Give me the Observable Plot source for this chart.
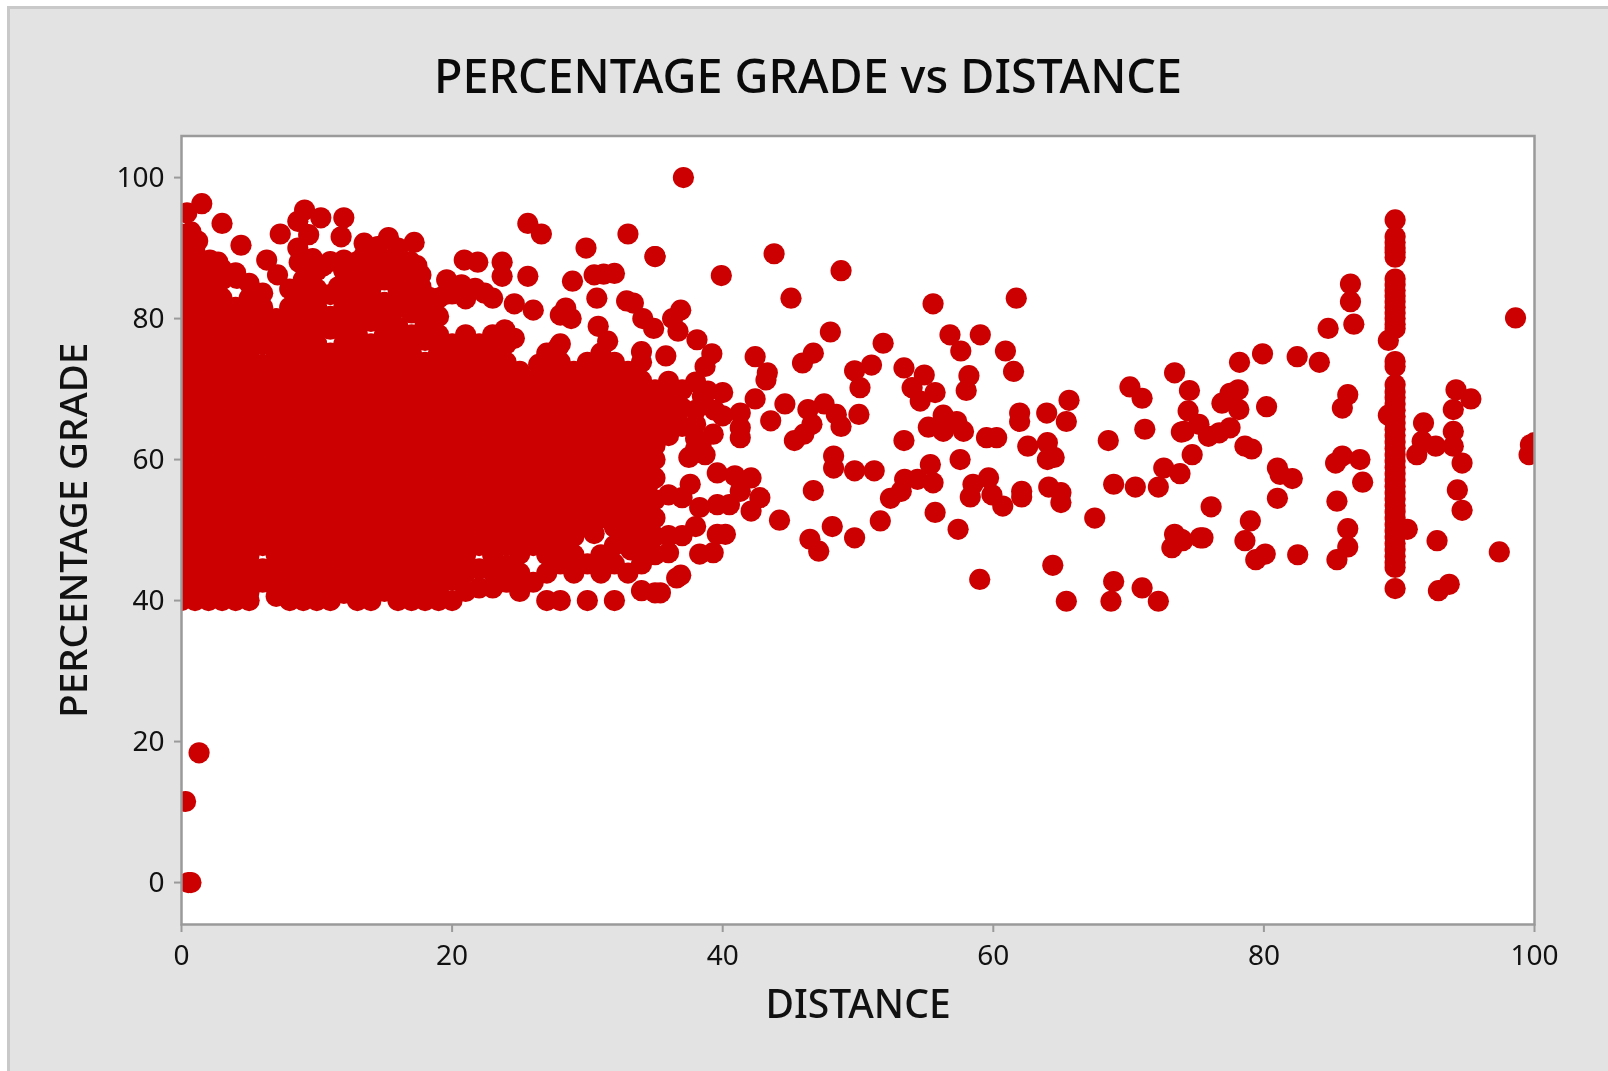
<!DOCTYPE html>
<html><head><meta charset="utf-8">
<script src="https://cdn.jsdelivr.net/npm/d3@7"></script>
<script src="https://cdn.jsdelivr.net/npm/@observablehq/plot@0.6"></script>
<style>
html,body{margin:0;padding:0;background:#fff;overflow:hidden}
#panel{position:absolute;left:7px;top:6px;width:1601px;height:1065px;background:#E3E3E3;border-left:3px solid #C9C9C9;border-top:3px solid #C9C9C9;box-sizing:border-box}
#title{position:absolute;left:0;width:1608px;top:45px;padding-left:8px;box-sizing:border-box;text-align:center;font:500 46.7px/60px "Noto Sans",sans-serif;color:#0a0a0a;white-space:nowrap;filter:blur(.5px)}
#chart{position:absolute;left:0;top:0;filter:blur(.5px)}
</style></head><body>
<div id="panel"></div>
<div id="chart"></div>
<div id="title">PERCENTAGE GRADE vs DISTANCE</div>
<script>
const title = "PERCENTAGE GRADE vs DISTANCE";
const xLabel = "DISTANCE";
const yLabel = "PERCENTAGE GRADE";
const xTicks = [0, 20, 40, 60, 80, 100];
const yTicks = [0, 20, 40, 60, 80, 100];

// Dense core of the cloud, one row per distance: [distance, [grades...]]
const coreColumns = [
[0,[40,42.6,45.2,47.8,50.4,53,55.6,58.2,60.8,63.4,66,68.6,71.2,73.8,76.4,79,81.6,84.2,86.8,89]],
[1,[40,41.3,43.9,46.5,49.1,51.7,54.3,56.9,59.5,62.1,64.7,67.3,69.9,72.5,75.1,77.7,80.3,82.9,85.5,88.1]],
[2,[40,42.6,45.2,47.8,50.4,53,55.6,58.2,60.8,63.4,66,68.6,71.2,73.8,76.4,79,81.6,84.2,86.8]],
[3,[40,41.3,43.9,46.5,49.1,51.7,54.3,56.9,59.5,62.1,64.7,67.3,69.9,72.5,75.1,77.7,80.3,82.9,85.5]],
[4,[40,42.6,45.2,47.8,50.4,53,55.6,58.2,60.8,63.4,66,68.6,71.2,73.8,76.4,79,81.6,86.5]],
[5,[40,41.3,43.9,46.5,49.1,51.7,54.3,56.9,59.5,62.1,64.7,67.3,69.9,72.5,75.1,77.7,82.9,85]],
[6,[42.6,47.8,50.4,53,55.6,58.2,60.8,63.4,66,68.6,71.2,76.4,81.6,83.6]],
[7,[40.6,43.9,46.5,49.1,51.7,54.3,56.9,59.5,62.1,64.7,67.3,69.9,72.5,75.1,77.7]],
[8,[40,42.6,45.2,47.8,50.4,53,55.6,58.2,60.8,63.4,66,68.6,71.2,73.8,76.4,81.6,84.2]],
[9,[40,41.3,43.9,46.5,49.1,51.7,54.3,56.9,59.5,62.1,64.7,67.3,69.9,72.5,75.1,77.7,80.3,82.9,85.5,88.1]],
[10,[40,42.6,45.2,47.8,50.4,53,55.6,58.2,60.8,63.4,66,68.6,71.2,73.8,76.4,79,81.6,84.2,86.8]],
[11,[40,41.3,43.9,46.5,49.1,51.7,54.3,56.9,59.5,62.1,64.7,67.3,69.9,72.5,75.1,80.3,88.1]],
[12,[41,42.6,45.2,47.8,50.4,53,55.6,58.2,60.8,63.4,66,68.6,71.2,73.8,76.4,79,81.6,84.2,86.8]],
[13,[40,43.9,46.5,49.1,51.7,54.3,56.9,59.5,62.1,64.7,67.3,69.9,72.5,75.1,77.7,80.3,82.9,85.5,88.1]],
[14,[40,42.6,45.2,47.8,50.4,53,55.6,58.2,60.8,63.4,66,68.6,71.2,73.8,76.4,81.6,84.2,86.8]],
[15,[41.3,43.9,46.5,49.1,51.7,54.3,56.9,59.5,62.1,64.7,67.3,69.9,72.5,75.1,77.7,80.3,85.5]],
[16,[40,42.6,45.2,47.8,50.4,53,55.6,58.2,60.8,63.4,66,68.6,71.2,73.8,76.4,81.6,84.2,86.8]],
[17,[40,43.9,46.5,49.1,51.7,54.3,56.9,59.5,62.1,64.7,67.3,69.9,72.5,75.1,77.7,82.9,85.5]],
[18,[40,42.6,45.2,47.8,50.4,53,55.6,58.2,60.8,63.4,66,68.6,71.2,73.8,79,81.6]],
[19,[40,41.3,43.9,46.5,49.1,51.7,54.3,56.9,59.5,62.1,64.7,67.3,69.9,72.5,75.1,77.7,80.3,82.9]],
[20,[40,45.2,47.8,50.4,53,55.6,58.2,60.8,63.4,66,68.6,71.2,73.8,76.4]],
[21,[41.3,43.9,46.5,49.1,51.7,54.3,56.9,59.5,62.1,64.7,67.3,69.9,72.5,75.1,77.7]],
[22,[47.8,50.4,53,55.6,58.2,60.8,63.4,66,68.6,71.2,73.8,76.4]],
[23,[41.8,44,46.5,49.1,51.7,54.3,56.9,59.5,62.1,64.7,67.3,69.9,72.5,75.1,77.7]],
[24,[42.6,47.8,50.4,53,55.6,58.2,60.8,63.4,66,68.6,71.2,73.8,76.4]],
[25,[41.3,43.9,49.1,51.7,54.3,56.9,59.5,62.1,64.7,67.3,69.9,72.5]],
[26,[42.6,47.8,50.4,53,55.6,58.2,60.8,63.4,66,68.6,71.2]],
[27,[40,43.9,46.5,49.1,51.7,54.3,56.9,59.5,62.1,64.7,67.3,69.9,72.5,75.1]],
[28,[40,45.2,47.8,50.4,53,55.6,58.2,60.8,63.4,66,68.6,71.2,73.8,76.4]],
[29,[43.9,46.5,49.1,51.7,54.3,56.9,59.5,62.1,64.7,67.3,69.9,72.5]],
[30,[40,45.2,50.4,53,55.6,58.2,60.8,63.4,66,68.6,71.2,73.8]],
[31,[43.9,46.5,51.7,54.3,56.9,59.5,62.1,64.7,67.3,69.9,72.5,75.1]],
[32,[40,45.2,47.8,50.4,53,55.6,58.2,60.8,63.4,66,68.6,71.2,73.8]],
[33,[43.9,49.1,51.7,54.3,56.9,59.5,62.1,64.7,67.3,69.9,72.5]],
[34,[41.4,45.2,47.8,50.4,53,55.6,58.2,60.8,63.4,66,68.6,71.2,73.8]],
[35,[41.1,46.5,49.1,51.7,54.3,57.4,60,62,64.7,67.3,69.9]],
[36,[46.8,49.2,55,63.4,66,68.6,71.1]],
[37,[49.2,54.6,64.7,67.3,69.9]],
[38,[50.5,65,67,71]]
];

// Extra points packed into the gaps of the core
const packedDistance = [5,6,6,8,11.6,11,11,14,15,15,16,17,18,7,8.7,9.7,10.5,12,13.5,14.5,15.8,16.5,17.4,17.7,18.3,20,21,22.4,0,1,2,3,4.1,5.2,6,7,13,17,20,22,25,33.5,34.5,33.5,34.5,30.5,33.2,22,24];
const packedGrade = [80.3,73.5,79,78.9,84.5,83.4,78.5,79.6,82.3,87,78.8,80.8,76.9,80,88,88.5,87.5,87,89,88.5,88.8,87.5,87.5,84.5,83,83.5,82.8,83.6,92,89.5,87.5,87,85.7,83.4,44.5,41.8,41.8,41.8,42.9,44.5,46.6,60.5,59.5,57,56.5,49.5,47.2,41.8,45];

// Loose points on the upper edge of the cloud: distances and grades, paired by position
const upperDistance = [0.4,1.5,3,0.7,1.2,0.4,4.4,7.3,9.1,8.6,10.3,12,11.8,8.6,9.4,6.3,7.1,2.1,2.7,12,13.5,15.3,17.2,16,14.5,16.9,17.7,20.9,21.9,23.7,23.7,25.6,25.6,26.6,29.9,33,35,28.9,30.5,31.2,32,30.7,32.9,33.4,34.1,34.9,36.9,36.3,36.7,35.8,24.6,26,23,19.6,20.7,21.7,19.5,28.4,28,28.8,23.9,24.6,30.8,31.5,27.8,26.4,34];
const upperGrade = [95,96.3,93.5,92.3,91,90,90.4,92,95.4,93.8,94.3,94.3,91.6,90,91.9,88.3,86.2,88.3,88,88.3,90.7,91.5,90.8,90,90.2,88.1,86.2,88.3,88,88,86,86,93.5,92,90,92,88.8,85.3,86.2,86.3,86.4,82.9,82.5,82.2,80,78.6,81.2,80,78.2,74.7,82.1,81.2,82.9,85.5,84.8,84.3,83.4,81.5,80.5,80,78.4,77.2,78.9,76.8,75.8,73.5,75.3];

// Points on the right of the cloud and through the thinning region
const midDistance = [37.1,35,39.9,43.8,48.75,45.05,55.55,61.7,47.96,51.86,56.8,59.04,57.6,60.9,61.5,58.2,58,46.7,45.9,42.4,43.3,43.2,42.4,51,49.75,50.15,50.07,53.4,54.9,54,55.7,54.6,44.6,46.3,47.5,48.4,48.75,43.55,41.3,40,41.3,41.3,46.6,46,45.3,53.4,56.3,57.3,55.2,56.3,57.8,59.5,60.25,61.95,61.95,63.95,65.6,65.4,62.55,64,64.5,64,57.55,48.2,48.2,49.75,51.2,55.35,55.55,54.4,53.45,53.2,52.4,46.7,58.5,58.3,59.65,59.9,60.7,62.1,62.1,64.1,65,65,67.5,68.5,71.2,70.1,71,73.4,74.5,74.4,73.9,74.7,72.6,73.8,68.9,70.5,72.2,73.4,73.2,73.9,75.3,64.4,59,68.9,71,65.4,68.7,72.2,55.7,57.4,51.65,48.1,49.75,46.45,47.1,44.2,38.1,39.2,38.7,40,38.5,39.3,38.4,37.5,38.7,39.6,40.9,42.1,37.6,41.3,42.75,42.1,40.5,39.6,38.3,39.6,38.3,39.3,36.6,36.9,35.4,39.4,38.9,38,38,40.2];
const midGrade = [100,88.8,86.1,89.2,86.8,82.9,82.1,82.9,78.1,76.5,77.7,77.7,75.4,75.4,72.5,71.9,69.8,75.1,73.7,74.6,72.3,71.3,68.6,73.4,72.6,70.2,66.4,73,72,70.2,69.5,68.3,67.9,67.1,67.9,66.4,64.7,65.5,66.6,66.2,64.5,63.1,65,63.6,62.7,62.7,66.3,65.4,64.6,64,64,63.1,63.1,66.6,65.4,66.6,68.4,65.4,61.9,62.4,60.3,60,60,60.5,58.8,58.4,58.4,59.3,56.7,57.2,57.2,55.5,54.5,55.6,56.5,54.7,57.4,55,53.4,55.5,54.7,56.1,55.3,53.9,51.7,62.7,64.3,70.3,68.7,72.3,69.8,66.9,63.9,60.7,58.8,58,56.5,56.1,56.1,49.4,47.5,48.7,48.9,45,43,42.7,41.8,39.9,39.9,39.9,52.5,50.1,51.3,50.5,48.9,48.7,47,51.4,77,75,73.2,69.5,69,63.6,62.1,60.3,60.7,58.1,57.7,57.4,56.5,55.5,54.6,52.7,53.6,53.6,53.2,49.4,46.6,46.8,43.2,43.6,41.1,67,69.7,63,61.5,49.4];

// Points right of distance 75, apart from the vertical stripe
const farDistance = [86.4,86.4,86.65,84.75,82.46,84.1,79.9,78.2,78.1,77.5,76.9,78.15,80.2,77.5,76.7,75.9,75.2,74.1,78.6,79.1,81,81.2,82.1,81,76.1,79,78.6,75.5,74,79.4,80.1,82.5,85.4,86.2,86.2,85.4,87.3,85.8,85.3,87.1,86.2,85.8,92.8,97.4,98.6,99.7,99.6,100,92.9,93.7,91.8,91.7,91.3,92.7,94,94,94.65,94,94.2,95.3,94.3,94.65,89.2,89.2,90.6];
const farGrade = [84.9,82.4,79.2,78.6,74.6,73.8,75,73.8,69.9,69.4,68,67.1,67.5,64.5,63.8,63.3,65,64,61.9,61.5,58.8,57.9,57.3,54.5,53.3,51.3,48.5,48.9,48.5,45.8,46.6,46.5,54.1,50.2,47.6,45.8,56.8,60.5,59.5,60,69.2,67.3,48.5,46.9,80.1,62.1,60.7,62.4,41.4,42.3,65.2,62.6,60.7,61.9,64,61.9,59.5,67.1,69.9,68.6,55.7,52.8,76.9,66.3,50.1];

// The vertical stripe of points at one distance
const stripeDistance = 89.7;
const stripeGrade = [94,91.6,90.8,90,89.4,88.7,85.6,84.8,84,83.2,82.4,81.6,80.8,80,79.2,78.6,73.9,73.2,70.6,69.6,68.8,67.9,67,66.1,65.2,64.3,63.4,62.5,61.6,60.7,59.8,58.9,58,57.1,56.2,55.3,54.4,53.5,52.6,51.7,50.8,49.9,49,48.1,47.2,46.3,45.4,44.7,41.7];

// Low outliers
const lowDistance = [1.3,0.3,0.5,0.7];
const lowGrade = [18.4,11.5,0,0];

const row = (xs, ys) => xs.map((x, i) => ({distance: x, grade: ys[i]}));
const data = [
  ...coreColumns.flatMap(([x, ys]) => ys.map(y => ({distance: x, grade: y}))),
  ...row(packedDistance, packedGrade),
  ...row(upperDistance, upperGrade),
  ...row(midDistance, midGrade),
  ...row(farDistance, farGrade),
  ...stripeGrade.map(y => ({distance: stripeDistance, grade: y})),
  ...row(lowDistance, lowGrade)
];

const axisStyle = {fontFamily: '"Noto Sans",sans-serif', fontSize: 28};
const plot = Plot.plot({
  width: 1608, height: 1071,
  marginLeft: 181, marginRight: 74, marginTop: 135.5, marginBottom: 147,
  style: {background: "transparent", overflow: "visible", color: "#111", fontFamily: '"Noto Sans",sans-serif'},
  x: {domain: [0, 100]},
  y: {domain: [-5.95, 105.9]},
  marks: [
    Plot.frame({fill: "white", stroke: "none"}),
    Plot.dot(data, {x: "distance", y: "grade", r: 10.6, fill: "#CC0000", stroke: "none", clip: true}),
    Plot.frame({stroke: "#9A9A9A", strokeWidth: 2.5}),
    Plot.axisX({ticks: xTicks, tickSize: 8, tickPadding: 13, stroke: "#9A9A9A", strokeWidth: 2, label: null, color: "#111", ...axisStyle}),
    Plot.axisY({ticks: yTicks, tickSize: 7, tickPadding: 10, stroke: "#9A9A9A", strokeWidth: 2, label: null, color: "#111", ...axisStyle}),
    Plot.text([xLabel], {frameAnchor: "bottom", dy: 93, fontSize: 39, fontWeight: 500, fill: "#111", fontFamily: '"Noto Sans",sans-serif'}),
    Plot.text([yLabel], {frameAnchor: "left", textAnchor: "middle", dx: -107, rotate: -90, fontSize: 38.5, fontWeight: 500, fill: "#111", fontFamily: '"Noto Sans",sans-serif'})
  ]
});
document.getElementById("chart").append(plot);
document.getElementById("title").textContent = title;
</script>
</body></html>
